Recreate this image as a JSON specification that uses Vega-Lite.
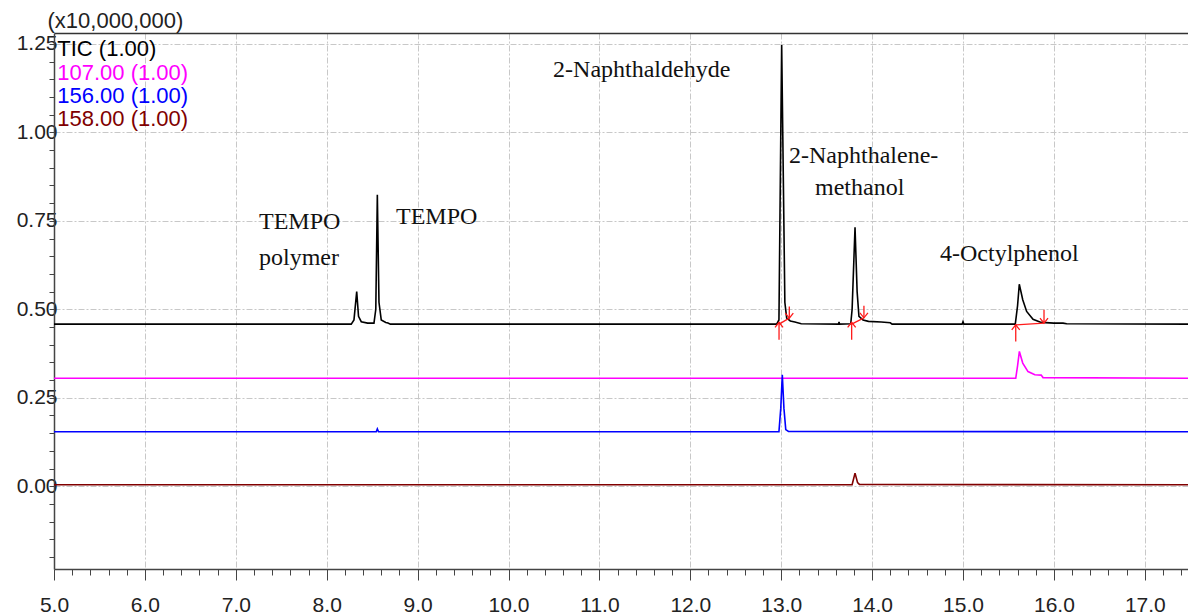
{
  "$schema": "https://vega.github.io/schema/vega-lite/v6.json",
  "width": 1134,
  "height": 536,
  "autosize": {"type": "none"},
  "padding": {"left": 54, "top": 33, "right": 0, "bottom": 45},
  "background": "white",
  "config": {"view": {"stroke": null}, "font": "Liberation Sans"},
  "datasets": {
    "traces": [
      {"s": "TIC", "t": 5.0, "v": 0.458},
      {"s": "TIC", "t": 8.27, "v": 0.458},
      {"s": "TIC", "t": 8.30, "v": 0.47},
      {"s": "TIC", "t": 8.33, "v": 0.55},
      {"s": "TIC", "t": 8.35, "v": 0.48},
      {"s": "TIC", "t": 8.38, "v": 0.465},
      {"s": "TIC", "t": 8.45, "v": 0.461},
      {"s": "TIC", "t": 8.52, "v": 0.461},
      {"s": "TIC", "t": 8.54, "v": 0.5},
      {"s": "TIC", "t": 8.557, "v": 0.824},
      {"s": "TIC", "t": 8.575, "v": 0.52},
      {"s": "TIC", "t": 8.60, "v": 0.47},
      {"s": "TIC", "t": 8.65, "v": 0.463},
      {"s": "TIC", "t": 8.674, "v": 0.461},
      {"s": "TIC", "t": 8.70, "v": 0.458},
      {"s": "TIC", "t": 12.95, "v": 0.458},
      {"s": "TIC", "t": 12.975, "v": 0.47},
      {"s": "TIC", "t": 13.005, "v": 1.248},
      {"s": "TIC", "t": 13.04, "v": 0.52},
      {"s": "TIC", "t": 13.06, "v": 0.475},
      {"s": "TIC", "t": 13.10, "v": 0.467},
      {"s": "TIC", "t": 13.15, "v": 0.464},
      {"s": "TIC", "t": 13.22, "v": 0.459},
      {"s": "TIC", "t": 13.63, "v": 0.458},
      {"s": "TIC", "t": 13.636, "v": 0.464},
      {"s": "TIC", "t": 13.642, "v": 0.458},
      {"s": "TIC", "t": 13.765, "v": 0.459},
      {"s": "TIC", "t": 13.78, "v": 0.5},
      {"s": "TIC", "t": 13.812, "v": 0.732},
      {"s": "TIC", "t": 13.835, "v": 0.55},
      {"s": "TIC", "t": 13.855, "v": 0.48},
      {"s": "TIC", "t": 13.90, "v": 0.47},
      {"s": "TIC", "t": 13.96, "v": 0.466},
      {"s": "TIC", "t": 14.1, "v": 0.464},
      {"s": "TIC", "t": 14.2, "v": 0.462},
      {"s": "TIC", "t": 14.22, "v": 0.458},
      {"s": "TIC", "t": 14.99, "v": 0.458},
      {"s": "TIC", "t": 15.0, "v": 0.465},
      {"s": "TIC", "t": 15.01, "v": 0.458},
      {"s": "TIC", "t": 15.575, "v": 0.458},
      {"s": "TIC", "t": 15.60, "v": 0.51},
      {"s": "TIC", "t": 15.619, "v": 0.571},
      {"s": "TIC", "t": 15.657, "v": 0.527},
      {"s": "TIC", "t": 15.70, "v": 0.494},
      {"s": "TIC", "t": 15.77, "v": 0.472},
      {"s": "TIC", "t": 15.86, "v": 0.463},
      {"s": "TIC", "t": 16.0, "v": 0.461},
      {"s": "TIC", "t": 16.1, "v": 0.461},
      {"s": "TIC", "t": 16.14, "v": 0.459},
      {"s": "TIC", "t": 17.475, "v": 0.458},
      {"s": "107", "t": 5.0, "v": 0.305},
      {"s": "107", "t": 15.58, "v": 0.305},
      {"s": "107", "t": 15.60, "v": 0.34},
      {"s": "107", "t": 15.62, "v": 0.381},
      {"s": "107", "t": 15.657, "v": 0.348},
      {"s": "107", "t": 15.715, "v": 0.324},
      {"s": "107", "t": 15.79, "v": 0.315},
      {"s": "107", "t": 15.86, "v": 0.314},
      {"s": "107", "t": 15.88, "v": 0.307},
      {"s": "107", "t": 17.475, "v": 0.305},
      {"s": "156", "t": 5.0, "v": 0.154},
      {"s": "156", "t": 8.545, "v": 0.154},
      {"s": "156", "t": 8.557, "v": 0.162},
      {"s": "156", "t": 8.57, "v": 0.154},
      {"s": "156", "t": 12.975, "v": 0.154},
      {"s": "156", "t": 12.995, "v": 0.22},
      {"s": "156", "t": 13.012, "v": 0.315},
      {"s": "156", "t": 13.03, "v": 0.22},
      {"s": "156", "t": 13.05, "v": 0.16},
      {"s": "156", "t": 13.08, "v": 0.155},
      {"s": "156", "t": 17.475, "v": 0.154},
      {"s": "158", "t": 5.0, "v": 0.004},
      {"s": "158", "t": 13.78, "v": 0.004},
      {"s": "158", "t": 13.812, "v": 0.037},
      {"s": "158", "t": 13.84, "v": 0.01},
      {"s": "158", "t": 13.86, "v": 0.005},
      {"s": "158", "t": 17.475, "v": 0.004}
    ],
    "red": [
      {"g": "b1", "o": 1, "t": 12.976, "v": 0.458},
      {"g": "b1", "o": 2, "t": 13.089, "v": 0.475},
      {"g": "u1s", "o": 1, "t": 12.976, "v": 0.414},
      {"g": "u1s", "o": 2, "t": 12.976, "v": 0.463},
      {"g": "u1h", "o": 1, "t": 12.932, "v": 0.449},
      {"g": "u1h", "o": 2, "t": 12.976, "v": 0.463},
      {"g": "u1h", "o": 3, "t": 13.02, "v": 0.449},
      {"g": "d1s", "o": 1, "t": 13.089, "v": 0.508},
      {"g": "d1s", "o": 2, "t": 13.089, "v": 0.475},
      {"g": "d1h", "o": 1, "t": 13.045, "v": 0.489},
      {"g": "d1h", "o": 2, "t": 13.089, "v": 0.475},
      {"g": "d1h", "o": 3, "t": 13.133, "v": 0.489},
      {"g": "b2", "o": 1, "t": 13.775, "v": 0.458},
      {"g": "b2", "o": 2, "t": 13.91, "v": 0.476},
      {"g": "u2s", "o": 1, "t": 13.775, "v": 0.414},
      {"g": "u2s", "o": 2, "t": 13.775, "v": 0.463},
      {"g": "u2h", "o": 1, "t": 13.731, "v": 0.449},
      {"g": "u2h", "o": 2, "t": 13.775, "v": 0.463},
      {"g": "u2h", "o": 3, "t": 13.819, "v": 0.449},
      {"g": "d2s", "o": 1, "t": 13.91, "v": 0.51},
      {"g": "d2s", "o": 2, "t": 13.91, "v": 0.476},
      {"g": "d2h", "o": 1, "t": 13.866, "v": 0.49},
      {"g": "d2h", "o": 2, "t": 13.91, "v": 0.476},
      {"g": "d2h", "o": 3, "t": 13.954, "v": 0.49},
      {"g": "b3", "o": 1, "t": 15.58, "v": 0.456},
      {"g": "b3", "o": 2, "t": 15.891, "v": 0.461},
      {"g": "u3s", "o": 1, "t": 15.58, "v": 0.409},
      {"g": "u3s", "o": 2, "t": 15.58, "v": 0.456},
      {"g": "u3h", "o": 1, "t": 15.536, "v": 0.442},
      {"g": "u3h", "o": 2, "t": 15.58, "v": 0.456},
      {"g": "u3h", "o": 3, "t": 15.624, "v": 0.442},
      {"g": "d3s", "o": 1, "t": 15.891, "v": 0.499},
      {"g": "d3s", "o": 2, "t": 15.891, "v": 0.461},
      {"g": "d3h", "o": 1, "t": 15.847, "v": 0.475},
      {"g": "d3h", "o": 2, "t": 15.891, "v": 0.461},
      {"g": "d3h", "o": 3, "t": 15.935, "v": 0.475}
    ],
    "notes": [
      {"label": "TEMPO", "t": 7.255, "v": 0.747},
      {"label": "polymer", "t": 7.255, "v": 0.646},
      {"label": "TEMPO", "t": 8.762, "v": 0.761},
      {"label": "2-Naphthaldehyde", "t": 10.49, "v": 1.177},
      {"label": "2-Naphthalene-", "t": 13.086, "v": 0.934},
      {"label": "methanol", "t": 13.372, "v": 0.844},
      {"label": "4-Octylphenol", "t": 14.747, "v": 0.657}
    ],
    "legend": [
      {"s": "TIC", "label": "TIC (1.00)", "t": 5.036, "v": 1.237},
      {"s": "107", "label": "107.00 (1.00)", "t": 5.036, "v": 1.169},
      {"s": "156", "label": "156.00 (1.00)", "t": 5.036, "v": 1.104},
      {"s": "158", "label": "158.00 (1.00)", "t": 5.036, "v": 1.039}
    ]
  },
  "layer": [
    {
      "data": {"name": "traces"},
      "mark": {"type": "line", "strokeWidth": 1.6, "clip": true},
      "encoding": {
        "x": {
          "field": "t", "type": "quantitative",
          "scale": {"domain": [5, 17.475], "nice": false, "zero": false},
          "axis": {
            "orient": "bottom", "values": [5, 6, 7, 8, 9, 10, 11, 12, 13, 14, 15, 16, 17],
            "format": ".1f", "tickSize": 11, "tickColor": "#444", "domainColor": "#444", "domainWidth": 1.5,
            "labelFontSize": 21, "labelColor": "#222", "labelPadding": 14, "labelFlush": false, "labelOverlap": false,
            "grid": true, "gridColor": "#c8c8c8", "gridDash": [6, 2, 2, 2], "title": null
          }
        },
        "y": {
          "field": "v", "type": "quantitative",
          "scale": {"domain": [-0.234, 1.281], "nice": false, "zero": false},
          "axis": {
            "orient": "left", "values": [0, 0.25, 0.5, 0.75, 1, 1.25], "format": ".2f",
            "tickSize": 0, "labelPadding": -3, "labelFontSize": 21, "labelColor": "#222",
            "labelFlush": false, "labelOverlap": false,
            "domainColor": "#444", "domainWidth": 1.5,
            "grid": true, "gridColor": "#c8c8c8", "gridDash": [6, 2, 2, 2],
            "title": "(x10,000,000)", "titleAngle": 0, "titleX": -7, "titleY": -13,
            "titleAlign": "left", "titleBaseline": "middle", "titleFontSize": 22,
            "titleFontWeight": "normal", "titleColor": "#222"
          }
        },
        "color": {
          "field": "s", "type": "nominal",
          "scale": {"domain": ["TIC", "107", "156", "158"], "range": ["#000000", "#ff00ff", "#0000ff", "#800000"]},
          "legend": null
        }
      }
    },
    {
      "data": {"name": "red"},
      "mark": {"type": "line", "color": "#ff1a1a", "strokeWidth": 1.3},
      "encoding": {
        "x": {
          "field": "t", "type": "quantitative",
          "axis": {
            "orient": "bottom",
            "values": [5.2, 5.4, 5.6, 5.8, 6.2, 6.4, 6.6, 6.8, 7.2, 7.4, 7.6, 7.8, 8.2, 8.4, 8.6, 8.8, 9.2, 9.4, 9.6, 9.8, 10.2, 10.4, 10.6, 10.8, 11.2, 11.4, 11.6, 11.8, 12.2, 12.4, 12.6, 12.8, 13.2, 13.4, 13.6, 13.8, 14.2, 14.4, 14.6, 14.8, 15.2, 15.4, 15.6, 15.8, 16.2, 16.4, 16.6, 16.8, 17.2, 17.4],
            "tickSize": 6, "tickColor": "#444", "labels": false, "grid": false, "domain": false, "title": null
          }
        },
        "y": {
          "field": "v", "type": "quantitative",
          "axis": {
            "orient": "left",
            "values": [-0.2, -0.15, -0.1, -0.05, 0, 0.05, 0.1, 0.15, 0.2, 0.25, 0.3, 0.35, 0.4, 0.45, 0.5, 0.55, 0.6, 0.65, 0.7, 0.75, 0.8, 0.85, 0.9, 0.95, 1, 1.05, 1.1, 1.15, 1.2, 1.25],
            "tickSize": 5, "tickColor": "#444", "labels": false, "grid": false, "domain": false, "title": null
          }
        },
        "detail": {"field": "g"},
        "order": {"field": "o", "type": "quantitative"}
      }
    },
    {
      "data": {"name": "notes"},
      "mark": {"type": "text", "font": "Liberation Serif", "fontSize": 24, "align": "left", "baseline": "middle", "color": "#111111"},
      "encoding": {
        "x": {
          "field": "t", "type": "quantitative",
          "axis": {"orient": "top", "ticks": false, "labels": false, "grid": false, "domain": true, "domainColor": "#333", "domainWidth": 1.5, "title": null}
        },
        "y": {"field": "v", "type": "quantitative", "axis": null},
        "text": {"field": "label"}
      }
    },
    {
      "data": {"name": "legend"},
      "mark": {"type": "text", "fontSize": 22, "align": "left", "baseline": "middle"},
      "encoding": {
        "x": {"field": "t", "type": "quantitative", "axis": null},
        "y": {"field": "v", "type": "quantitative", "axis": null},
        "text": {"field": "label"},
        "color": {"field": "s", "type": "nominal", "legend": null}
      }
    }
  ],
  "resolve": {"axis": {"x": "independent", "y": "independent"}}
}
